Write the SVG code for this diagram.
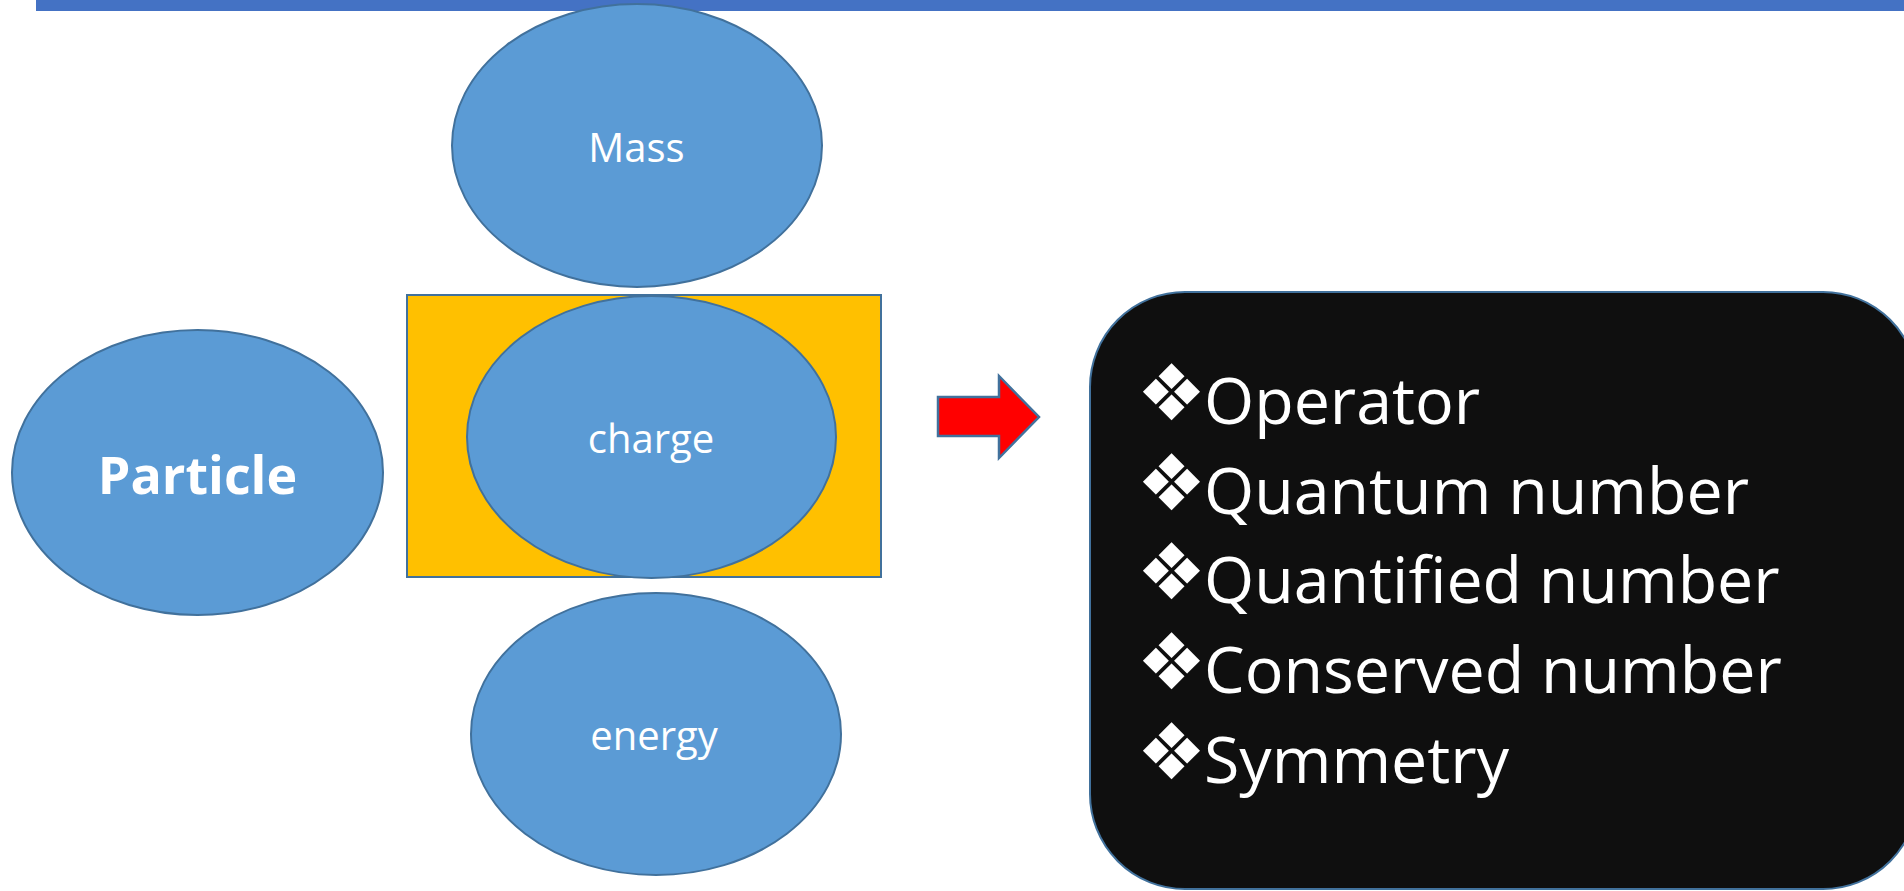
<svg xmlns="http://www.w3.org/2000/svg" width="1904" height="891" viewBox="0 0 1904 891">
<style>
.ell{fill:#5B9BD5;stroke:#41719C;stroke-width:2}
.lbl{font-family:"Open Sans","Noto Sans","Liberation Sans",sans-serif;fill:#FFFFFF;text-anchor:middle;font-size:40px}
.item{font-family:"Open Sans","Noto Sans","Liberation Sans",sans-serif;fill:#FFFFFF;font-size:64.5px}
.bul{font-family:"DejaVu Sans",sans-serif;fill:#FFFFFF;font-size:78px;text-anchor:middle}
</style>
<rect id="topbar" x="36" y="0" width="1868" height="11" fill="#4472C4"/>
<g id="mass">
<ellipse class="ell" cx="637" cy="145.5" rx="185" ry="141.5"/>
<text class="lbl" x="636.5" y="162">Mass</text>
</g>
<g id="charge-box">
<rect x="407" y="295" width="474" height="282" fill="#FFC000" stroke="#41719C" stroke-width="2"/>
</g>
<g id="charge">
<ellipse class="ell" cx="651.5" cy="437" rx="184.5" ry="141"/>
<text class="lbl" x="651" y="453">charge</text>
</g>
<g id="energy">
<ellipse class="ell" cx="656" cy="734" rx="185" ry="141"/>
<text class="lbl" x="654" y="750">energy</text>
</g>
<g id="particle">
<ellipse class="ell" cx="197.5" cy="472.5" rx="185.5" ry="142.5"/>
<text class="lbl" x="197.5" y="494" style="font-size:52px;font-weight:bold">Particle</text>
</g>
<g id="connectors">
<polygon points="938,397 999,397 999,376 1039,417 999,458 999,436 938,436" fill="#FF0000" stroke="#41719C" stroke-width="2.5" stroke-linejoin="miter"/>
</g>
<g id="properties">
<rect x="1090" y="292" width="828" height="597" rx="95" ry="95" fill="#0F0F0F" stroke="#41719C" stroke-width="2"/>
<text class="bul" x="1171.5" y="420">❖</text>
<text class="item" x="1204" y="424">Operator</text>
<text class="bul" x="1171.5" y="510">❖</text>
<text class="item" x="1204" y="514">Quantum number</text>
<text class="bul" x="1171.5" y="599">❖</text>
<text class="item" x="1204" y="603">Quantified number</text>
<text class="bul" x="1171.5" y="689">❖</text>
<text class="item" x="1204" y="693">Conserved number</text>
<text class="bul" x="1171.5" y="779">❖</text>
<text class="item" x="1204" y="783">Symmetry</text>
</g>
</svg>
